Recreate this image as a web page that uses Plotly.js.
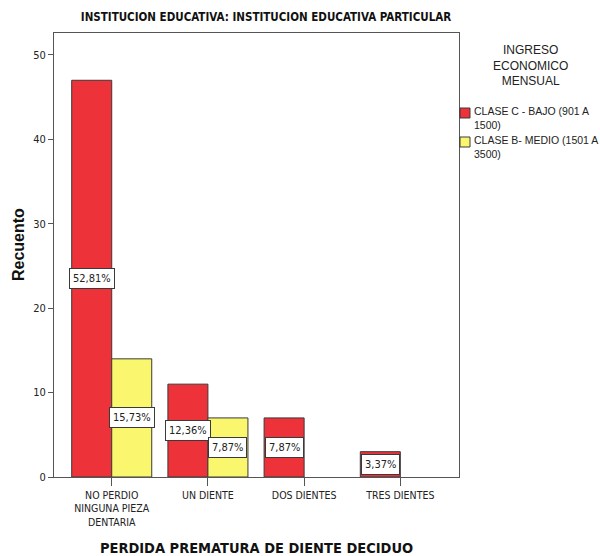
<!DOCTYPE html>
<html>
<head>
<meta charset="utf-8">
<script src="https://cdn.plot.ly/plotly-3.0.1.min.js"></script>
<style>html,body{margin:0;padding:0;background:#fff;}#chart{width:600px;height:556px;}</style>
</head>
<body>
<div id="chart"></div>
<script>
// ---- data ----
const categories = ['NO PERDIO<br>NINGUNA PIEZA<br>DENTARIA', 'UN DIENTE', 'DOS DIENTES', 'TRES DIENTES'];
const seriesNames = ['CLASE C - BAJO (901 A<br>1500)', 'CLASE B- MEDIO (1501 A<br>3500)'];
const bajo = [47, 11, 7, 3];
const medio = [14, 7, 0, 0];
const bajoPct = ['52,81%', '12,36%', '7,87%', '3,37%'];
const medioPct = ['15,73%', '7,87%', '', ''];

// ---- style ----
const RED = '#EE3239';
const YELLOW = '#FAF66E';
const EDGE = '#3a3a3a';
const NARROW = '"Liberation Sans Narrow", "Arial Narrow", "DejaVu Sans Condensed", sans-serif';
const ARIAL = '"Liberation Sans", Arial, sans-serif';

const L = 54, R = 459, T = 33, B = 477, W = 600, H = 556;
const BARGAP = 0.168;
const half = (1 - BARGAP) / 4;
const px2x = p => (p - L) / (R - L);
const py2y = p => (B - p) / (B - T);
const noZero = arr => arr.map(v => (v === 0 ? null : v));

const traces = [
  {type: 'bar', name: seriesNames[0], x: categories, y: noZero(bajo),
   marker: {color: RED, line: {color: EDGE, width: 1}}, hoverinfo: 'none'},
  {type: 'bar', name: seriesNames[1], x: categories, y: noZero(medio),
   marker: {color: YELLOW, line: {color: EDGE, width: 1}}, hoverinfo: 'none'}
];

const annotations = [];
function pctLabel(i, val, txt, dx) {
  if (!txt) return;
  annotations.push({
    x: i + dx, y: val / 2, xref: 'x', yref: 'y', text: txt, showarrow: false,
    bgcolor: '#ffffff', bordercolor: EDGE, borderwidth: 1, borderpad: 3,
    font: {family: NARROW, size: 11, color: '#222'}
  });
}
bajo.forEach((v, i) => pctLabel(i, v, bajoPct[i], -half));
medio.forEach((v, i) => pctLabel(i, v, medioPct[i], half));

// y axis title
annotations.push({
  xref: 'paper', yref: 'paper', x: px2x(18), y: py2y(245), xanchor: 'center', yanchor: 'middle',
  text: '<b>Recuento</b>', textangle: -90, showarrow: false,
  font: {family: ARIAL, size: 16, color: '#111'}
});

// legend title
annotations.push({
  xref: 'paper', yref: 'paper', x: px2x(530), y: py2y(41), xanchor: 'center', yanchor: 'top',
  text: 'INGRESO<br>ECONOMICO<br>MENSUAL', showarrow: false, align: 'center',
  font: {family: ARIAL, size: 12, color: '#222'}
});
// legend items
const shapes = [];
const legendColors = [RED, YELLOW];
const legendTops = [104, 133];
seriesNames.forEach((n, k) => {
  const top = legendTops[k];
  annotations.push({
    xref: 'paper', yref: 'paper', x: px2x(472), y: py2y(top - 1), xanchor: 'left', yanchor: 'top',
    text: n, showarrow: false, align: 'left',
    font: {family: ARIAL, size: 10.5, color: '#222'}
  });
  shapes.push({
    type: 'rect', xref: 'paper', yref: 'paper',
    x0: px2x(460), x1: px2x(470), y0: py2y(top + 4), y1: py2y(top + 14),
    fillcolor: legendColors[k], line: {color: EDGE, width: 1}
  });
});

const layout = {
  width: W, height: H,
  margin: {l: L, r: W - R, t: T, b: H - B, pad: 0},
  paper_bgcolor: '#fff', plot_bgcolor: '#fff',
  showlegend: false,
  barmode: 'group', bargap: BARGAP, bargroupgap: 0,
  title: {
    text: '<b>INSTITUCION EDUCATIVA: INSTITUCION EDUCATIVA PARTICULAR</b>',
    x: 266 / W, xanchor: 'center', y: 1 - 17 / H, yanchor: 'middle',
    font: {family: NARROW, size: 11.5, color: '#111'}
  },
  xaxis: {
    type: 'category', range: [-0.6, 3.61],
    showline: true, mirror: true, linecolor: '#555', linewidth: 1,
    ticks: 'outside', ticklen: 8, tickcolor: '#555', showgrid: false, zeroline: false,
    tickfont: {family: NARROW, size: 10.5, color: '#222'},
    title: {text: '<b>PERDIDA PREMATURA DE DIENTE DECIDUO</b>', standoff: 22,
            font: {family: NARROW, size: 14.5, color: '#111'}}
  },
  yaxis: {
    range: [0, 52.6], dtick: 10, tick0: 0,
    showline: true, mirror: true, linecolor: '#555', linewidth: 1,
    ticks: 'outside', ticklen: 5, tickcolor: '#555', showgrid: false, zeroline: false,
    tickfont: {family: NARROW, size: 11, color: '#222'}
  },
  annotations: annotations,
  shapes: shapes
};

Plotly.newPlot('chart', traces, layout, {displayModeBar: false, staticPlot: true});
</script>
</body>
</html>
